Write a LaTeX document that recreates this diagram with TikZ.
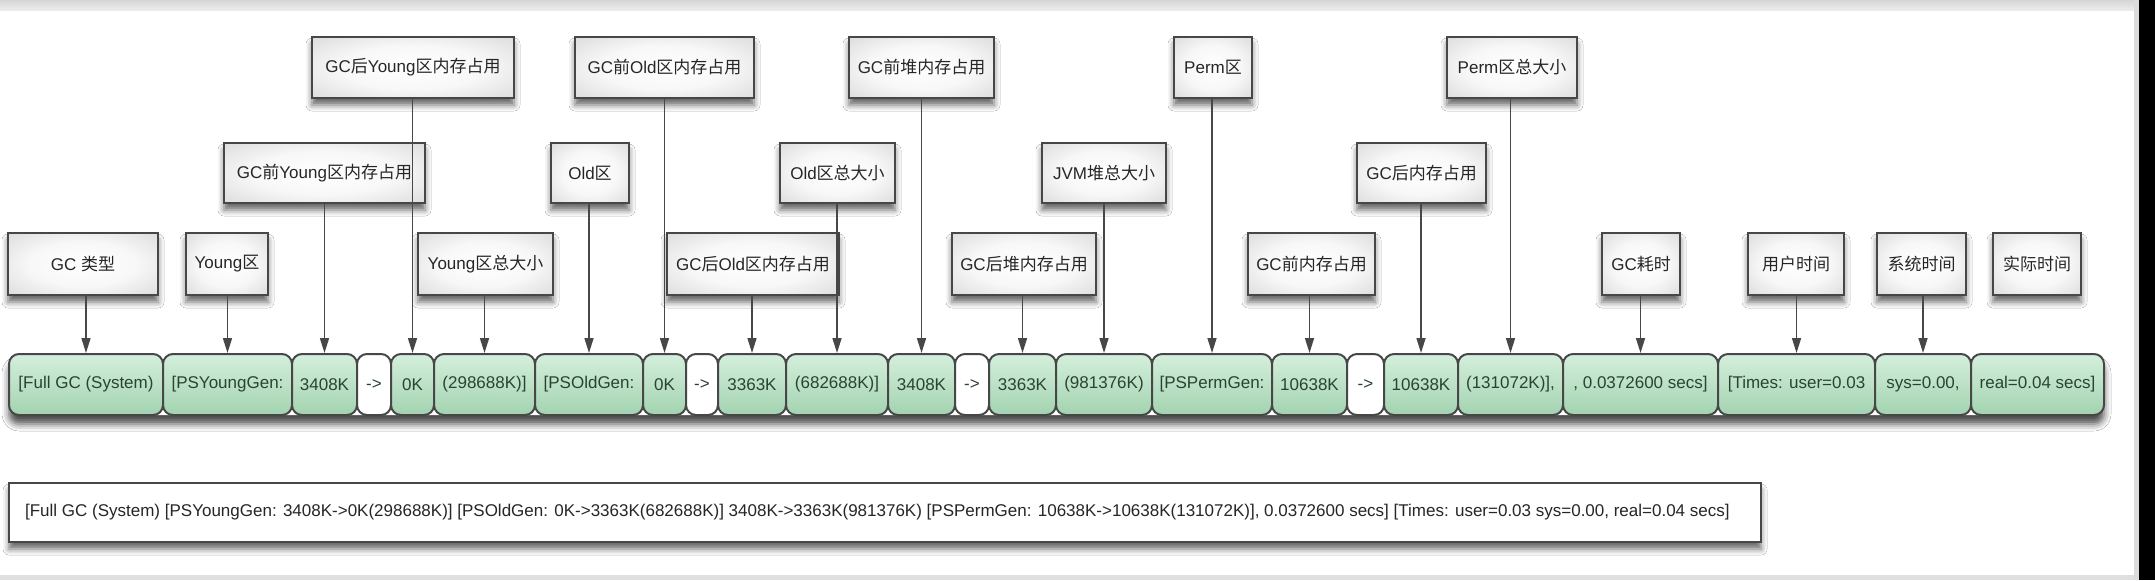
\documentclass[tikz,border=0pt]{standalone}
\usepackage{fontspec}
\setmainfont{Liberation Sans}
\newfontfamily\cjk{Noto Sans CJK SC}
\newcommand\zh[1]{{\cjk #1}}
\usetikzlibrary{arrows.meta,shadows,shadows.blur}
\definecolor{edge}{HTML}{474747}
\definecolor{mintTop}{HTML}{D4EFDC}
\definecolor{mintBot}{HTML}{A3D3B0}
\definecolor{segtext}{HTML}{2B4333}
\definecolor{labtext}{HTML}{262626}
\pgfdeclareradialshading{labshade}{\pgfpoint{0bp}{0bp}}{color(0bp)=(white); color(18bp)=(white!94!gray); color(34bp)=(white!75!gray); color(44bp)=(gray!55); color(50bp)=(gray!80)}
\tikzset{
  lab/.style={draw=edge, line width=1.1pt, shading=labshade, text=labtext,
    font=\fontsize{8.5pt}{10pt}\selectfont, inner sep=0pt,
    blur shadow={shadow xshift=0pt, shadow yshift=-3.5pt, shadow blur radius=3pt, shadow opacity=60}},
  seg/.style={draw=edge, line width=1pt, rounded corners=5pt, top color=mintTop, bottom color=mintBot,
    text=segtext, font=\fontsize{8.5pt}{10pt}\selectfont, inner sep=0pt, minimum height=30.5pt},
  wseg/.style={seg, top color=white, bottom color=white},
  conn/.style={draw=edge, line width=0.75pt, -{Triangle[length=7.5pt,width=4.5pt]}},
  logbox/.style={draw=edge, line width=1.1pt, fill=white, inner xsep=8pt, inner ysep=0pt,
    minimum height=29.5pt, text=labtext, font=\fontsize{8.5pt}{10pt}\selectfont,
    blur shadow={shadow xshift=0pt, shadow yshift=-3.5pt, shadow blur radius=3pt, shadow opacity=60}}
}
\newcommand\lab[6]{\node[lab, minimum width={(#3-#2)*0.5pt}, minimum height={(#5-#4)*0.5pt}] (#1) at ({(#2+#3)/2},{(#4+#5)/2}) {#6};}
\newcommand\sg[5]{\node[#5, minimum width={(#3-#2)*0.5pt}] (#1) at ({(#2+#3)/2},384.5) {#4};}
\begin{document}
\begin{tikzpicture}[x=0.5pt,y=-0.5pt]
\useasboundingbox (0,0) rectangle (2155,580);
\fill[white] (0,0) rectangle (2155,580);
\shade[top color=gray!32, bottom color=gray!15] (0,0) rectangle (2134,10);
\fill[gray!25] (0,575) rectangle (2134,580);
\fill[gray!28] (2134,0) rectangle (2139,580);
\fill[black] (2139,0) rectangle (2155,580);

% labels, top row
\lab{a1}{312}{514}{37}{98}{GC\zh{后}Young\zh{区内存占用}}
\lab{a2}{575}{754}{37}{98}{GC\zh{前}Old\zh{区内存占用}}
\lab{a3}{849}{994}{37}{98}{GC\zh{前堆内存占用}}
\lab{a4}{1174}{1252}{37}{98}{Perm\zh{区}}
\lab{a5}{1447}{1577}{37}{98}{Perm\zh{区总大小}}
% middle row
\lab{b1}{224}{425}{143}{203}{GC\zh{前}Young\zh{区内存占用}}
\lab{b2}{551}{629}{143}{203}{Old\zh{区}}
\lab{b3}{780}{895}{143}{203}{Old\zh{区总大小}}
\lab{b4}{1042}{1166}{143}{203}{JVM\zh{堆总大小}}
\lab{b5}{1357}{1486}{143}{203}{GC\zh{后内存占用}}
% bottom row
\lab{c1}{8}{158}{233}{295}{GC \zh{类型}}
\lab{c2}{186}{268}{233}{295}{Young\zh{区}}
\lab{c3}{418}{553}{233}{295}{Young\zh{区总大小}}
\lab{c4}{667}{839}{233}{295}{GC\zh{后}Old\zh{区内存占用}}
\lab{c5}{952}{1096}{233}{295}{GC\zh{后堆内存占用}}
\lab{c6}{1248}{1375}{233}{295}{GC\zh{前内存占用}}
\lab{c7}{1602}{1680}{233}{295}{GC\zh{耗时}}
\lab{c8}{1748}{1844}{233}{295}{\zh{用户时间}}
\lab{c9}{1877}{1966}{233}{295}{\zh{系统时间}}
\lab{c10}{1993}{2081}{233}{295}{\zh{实际时间}}

% bar shadow
\path[fill=white, rounded corners=5pt, blur shadow={shadow xshift=0pt, shadow yshift=-4.5pt, shadow blur radius=3.5pt, shadow opacity=70}] (9,354) rectangle (2104,415);
% bar segments
\sg{s1}{9}{163}{[Full GC (System)}{seg}
\sg{s2}{163}{292}{[PSYoungGen:}{seg}
\sg{s3}{292}{357}{3408K}{seg}
\sg{s4}{357}{391}{->}{wseg}
\sg{s5}{391}{434}{0K}{seg}
\sg{s6}{434}{535}{(298688K)]}{seg}
\sg{s7}{535}{643}{[PSOldGen:}{seg}
\sg{s8}{643}{686}{0K}{seg}
\sg{s9}{686}{718}{->}{wseg}
\sg{s10}{718}{786}{3363K}{seg}
\sg{s11}{786}{888}{(682688K)]}{seg}
\sg{s12}{888}{955}{3408K}{seg}
\sg{s13}{955}{989}{->}{wseg}
\sg{s14}{989}{1056}{3363K}{seg}
\sg{s15}{1056}{1152}{(981376K)}{seg}
\sg{s16}{1152}{1272}{[PSPermGen:}{seg}
\sg{s17}{1272}{1347}{10638K}{seg}
\sg{s18}{1347}{1384}{->}{wseg}
\sg{s19}{1384}{1458}{10638K}{seg}
\sg{s20}{1458}{1563}{(131072K)],}{seg}
\sg{s21}{1563}{1718}{, 0.0372600 secs]}{seg}
\sg{s22}{1718}{1875}{[Times: user=0.03}{seg}
\sg{s23}{1875}{1971}{sys=0.00,}{seg}
\sg{s24}{1971}{2104}{real=0.04 secs]}{seg}

% connectors
\draw[conn] (c1.south -| s1.north) -- (s1.north);
\draw[conn] (c2.south -| s2.north) -- (s2.north);
\draw[conn] (b1.south -| s3.north) -- (s3.north);
\draw[conn] (a1.south -| s5.north) -- (s5.north);
\draw[conn] (c3.south -| s6.north) -- (s6.north);
\draw[conn] (b2.south -| s7.north) -- (s7.north);
\draw[conn] (a2.south -| s8.north) -- (s8.north);
\draw[conn] (c4.south -| s10.north) -- (s10.north);
\draw[conn] (b3.south -| s11.north) -- (s11.north);
\draw[conn] (a3.south -| s12.north) -- (s12.north);
\draw[conn] (c5.south -| s14.north) -- (s14.north);
\draw[conn] (b4.south -| s15.north) -- (s15.north);
\draw[conn] (a4.south -| s16.north) -- (s16.north);
\draw[conn] (c6.south -| s17.north) -- (s17.north);
\draw[conn] (b5.south -| s19.north) -- (s19.north);
\draw[conn] (a5.south -| s20.north) -- (s20.north);
\draw[conn] (c7.south -| s21.north) -- (s21.north);
\draw[conn] (c8.south -| s22.north) -- (s22.north);
\draw[conn] (c9.south -| s23.north) -- (s23.north);

% full log line
\node[logbox, anchor=west] (log) at (8,512.5) {\makebox[860pt][l]{[Full GC (System) [PSYoungGen: 3408K->0K(298688K)] [PSOldGen: 0K->3363K(682688K)] 3408K->3363K(981376K) [PSPermGen: 10638K->10638K(131072K)], 0.0372600 secs] [Times: user=0.03 sys=0.00, real=0.04 secs]}};
\end{tikzpicture}
\end{document}
